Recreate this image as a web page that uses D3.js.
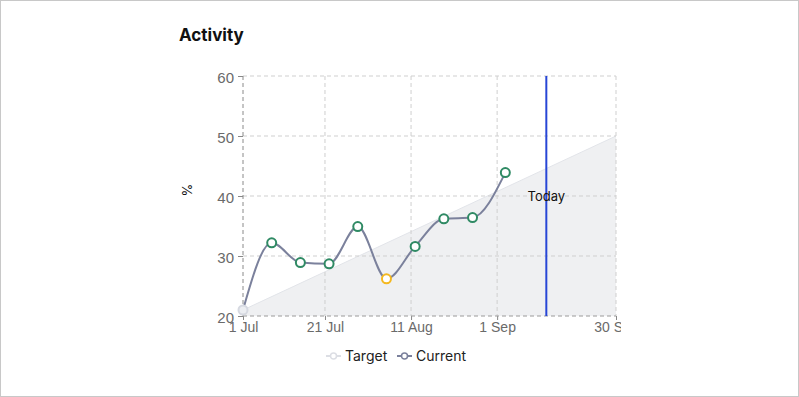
<!DOCTYPE html>
<html lang="en">
  <head>
    <meta charset="utf-8">
    <title>Activity</title>
    <script src="https://d3js.org/d3.v7.min.js"></script>
    <style>
      body { margin: 0; background: #fff; }
      #frame {
        width: 799px; height: 397px; box-sizing: border-box;
        border: 1px solid #c8c8c8; position: relative; overflow: hidden;
      }
      #frame svg { position: absolute; left: 0; top: 0; }
      .tick text { font-family: "Liberation Sans", Arial, sans-serif; font-size: 14px; fill: #6a6a6a; }
      .yaxis .tick text { font-size: 15px; }
    </style>
  </head>
  <body>
    <div id="frame"></div>
    <script>
      // data
      var pointDates = ["2024-07-01", "2024-07-08", "2024-07-15", "2024-07-22", "2024-07-29",
                        "2024-08-05", "2024-08-12", "2024-08-19", "2024-08-26", "2024-09-03"];
      var currentValues = [21, 32.2, 28.9, 28.7, 34.9, 26.2, 31.6, 36.2, 36.4, 43.9];
      var pointStatus = ["start", "ok", "ok", "ok", "ok", "warn", "ok", "ok", "ok", "ok"];
      var targetDates = ["2024-07-01", "2024-09-30"];
      var targetValues = [21, 50];
      var xTickDates = ["2024-07-01", "2024-07-21", "2024-08-11", "2024-09-01", "2024-09-30"];
      var yTicks = [20, 30, 40, 50, 60];
      var todayDate = "2024-09-13";

      var parse = d3.timeParse("%Y-%m-%d");
      var statusColor = { start: "#d6d9e1", ok: "#2f8a64", warn: "#f4b81f" };

      var svg = d3.select("#frame").append("svg")
        .attr("width", 620).attr("height", 397);

      var x = d3.scaleTime()
        .domain([parse("2024-07-01"), parse("2024-09-30")])
        .range([242, 615]);
      var y = d3.scaleLinear().domain([20, 60]).range([315, 75]);

      svg.append("text")
        .attr("x", 178).attr("y", 40)
        .style("font-family", "Inter, 'Liberation Sans', sans-serif")
        .style("font-weight", "700").style("font-size", "17px")
        .attr("fill", "#111")
        .text("Activity");

      // target area
      var target = targetDates.map(function(d, i) { return [parse(d), targetValues[i]]; });
      svg.append("path")
        .datum(target)
        .attr("fill", "#eff0f2")
        .attr("d", d3.area().x(function(d) { return x(d[0]); }).y0(y(20)).y1(function(d) { return y(d[1]); }));
      svg.append("path")
        .datum(target)
        .attr("fill", "none").attr("stroke", "#e2e4e9").attr("stroke-width", 1)
        .attr("d", d3.line().x(function(d) { return x(d[0]); }).y(function(d) { return y(d[1]); }));

      // grid
      svg.append("g").selectAll("line")
        .data(yTicks.slice(1)).enter().append("line")
        .attr("x1", 242).attr("x2", 615)
        .attr("y1", function(d) { return y(d); }).attr("y2", function(d) { return y(d); })
        .attr("stroke", "#cfcfcf").attr("stroke-dasharray", "4,3");
      svg.append("g").selectAll("line")
        .data(xTickDates.slice(1)).enter().append("line")
        .attr("x1", function(d) { return x(parse(d)); }).attr("x2", function(d) { return x(parse(d)); })
        .attr("y1", 75).attr("y2", 315)
        .attr("stroke", "#cfcfcf").attr("stroke-dasharray", "4,3");

      // axes
      var yAxis = svg.append("g").attr("class", "yaxis").attr("transform", "translate(242,0)")
        .call(d3.axisLeft(y).tickValues(yTicks).tickSize(5).tickPadding(4));
      yAxis.select(".domain").remove();
      yAxis.selectAll(".tick line").attr("stroke", "#888");
      yAxis.selectAll(".tick text").attr("dy", "0.45em");
      svg.append("line").attr("x1", 242).attr("x2", 242).attr("y1", 75).attr("y2", 315)
        .attr("stroke", "#8a8a8a").attr("stroke-dasharray", "4,3");

      var xAxis = svg.append("g").attr("transform", "translate(0,315)")
        .call(d3.axisBottom(x).tickValues(xTickDates.map(parse))
          .tickFormat(d3.timeFormat("%-d %b")).tickSize(4).tickPadding(2));
      xAxis.select(".domain").remove();
      xAxis.selectAll(".tick line").attr("stroke", "#888");
      svg.append("line").attr("x1", 242).attr("x2", 615).attr("y1", 315).attr("y2", 315)
        .attr("stroke", "#9a9a9a").attr("stroke-dasharray", "4,3");

      svg.append("text")
        .attr("transform", "translate(191,189) rotate(-90)")
        .attr("text-anchor", "middle")
        .style("font-family", "Inter, 'Liberation Sans', sans-serif").style("font-size", "13px")
        .attr("fill", "#111").text("%");

      // today marker
      var tx = x(parse(todayDate));
      svg.append("line").attr("x1", tx).attr("x2", tx).attr("y1", 75).attr("y2", 315)
        .attr("stroke", "#2746d6").attr("stroke-width", 2);
      svg.append("text").attr("x", tx).attr("y", 200).attr("text-anchor", "middle")
        .style("font-family", "Inter, 'Liberation Sans', sans-serif").style("font-size", "13px")
        .attr("fill", "#111").text("Today");

      // current series
      var current = pointDates.map(function(d, i) { return { date: parse(d), value: currentValues[i], status: pointStatus[i] }; });
      svg.append("path")
        .datum(current)
        .attr("fill", "none").attr("stroke", "#7b819c").attr("stroke-width", 2)
        .attr("d", d3.line().curve(d3.curveMonotoneX)
          .x(function(d) { return x(d.date); }).y(function(d) { return y(d.value); }));
      svg.append("g").selectAll("circle")
        .data(current).enter().append("circle")
        .attr("cx", function(d) { return x(d.date); })
        .attr("cy", function(d) { return y(d.value); })
        .attr("r", 4.5)
        .attr("fill", function(d) { return d.status == "start" ? "#eceef2" : "#fff"; })
        .attr("stroke", function(d) { return statusColor[d.status]; })
        .attr("stroke-width", 2);

      // legend
      var legend = svg.append("g").attr("transform", "translate(0,355)");
      var items = [{ name: "Target", color: "#dcdee4", x: 325 }, { name: "Current", color: "#7b819c", x: 396 }];
      items.forEach(function(it) {
        var g = legend.append("g").attr("transform", "translate(" + it.x + ",0)");
        g.append("line").attr("x1", 0).attr("x2", 15).attr("stroke", it.color).attr("stroke-width", 2);
        g.append("circle").attr("cx", 7.5).attr("r", 3).attr("fill", "#fff").attr("stroke", it.color).attr("stroke-width", 1.5);
        g.append("text").attr("x", 19).attr("y", 5)
          .style("font-family", "Inter, 'Liberation Sans', sans-serif").style("font-size", "14px")
          .attr("fill", "#222").text(it.name);
      });
    </script>
  </body>
</html>
